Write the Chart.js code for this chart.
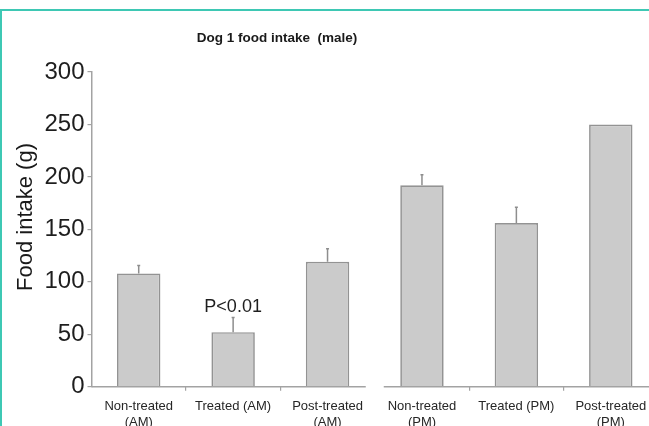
<!DOCTYPE html>
<html>
<head>
<meta charset="utf-8">
<script src="https://cdn.jsdelivr.net/npm/chart.js@4.4.1/dist/chart.umd.min.js"></script>
<style>
  html, body { margin: 0; padding: 0; overflow: hidden; background: #fff; width: 649px; height: 426px; }
  #wrap { position: relative; width: 649px; height: 426px; overflow: hidden; }
  #wrap canvas { position: absolute; left: 0; top: 0; }
  #frame { position: absolute; left: 0; top: 9px; width: 720px; height: 520px; border: 2px solid #3ec8b4; box-sizing: border-box; pointer-events: none; }
</style>
</head>
<body>
<div id="wrap">
  <canvas id="chart" width="670" height="426"></canvas>
  <div id="frame"></div>
</div>
<script>
// Food intake per feeding period (g), mean and SEM
const categories = [
  ['Non-treated', '(AM)'],
  'Treated (AM)',
  ['Post-treated', '(AM)'],
  ['Non-treated', '(PM)'],
  'Treated (PM)',
  ['Post-treated', '(PM)']
];
const intake = [108, 52, 119, 192, 156, 250];
const sem = [7.5, 14, 12.5, 10, 15, 0];
const pLabels = ['', 'P<0.01', '', '', '', ''];
const groupSize = 3;          // AM group, then PM group
const yMin = 0, yMax = 300, yStep = 50;
const chartTitle = 'Dog 1 food intake  (male)';
const yTitle = 'Food intake (g)';

const FONT = '"Liberation Sans", Arial, Helvetica, sans-serif';
const AXIS = '#a3a3a3';

const decorations = {
  id: 'decorations',
  afterDatasetsDraw(chart) {
    const { ctx, chartArea, scales: { x, y } } = chart;
    ctx.save();

    // upper error bars
    ctx.strokeStyle = '#8e8e8e';
    ctx.lineWidth = 1.5;
    intake.forEach((v, i) => {
      if (!sem[i]) return;
      const px = x.getPixelForValue(i);
      const y0 = y.getPixelForValue(v);
      const y1 = y.getPixelForValue(v + sem[i]);
      ctx.beginPath();
      ctx.moveTo(px, y0);
      ctx.lineTo(px, y1);
      ctx.moveTo(px - 1.5, y1);
      ctx.lineTo(px + 1.5, y1);
      ctx.stroke();
    });

    // significance labels above the error bars
    ctx.fillStyle = '#1e1e1e';
    ctx.font = '18px ' + FONT;
    ctx.textAlign = 'center';
    ctx.textBaseline = 'alphabetic';
    pLabels.forEach((t, i) => {
      if (!t) return;
      ctx.fillText(t, x.getPixelForValue(i), y.getPixelForValue(intake[i] + sem[i]) - 5);
    });

    // x axis line, broken between the AM and PM groups
    const gapMid = (x.getPixelForValue(groupSize - 1) + x.getPixelForValue(groupSize)) / 2;
    ctx.strokeStyle = AXIS;
    ctx.lineWidth = 1.5;
    ctx.beginPath();
    ctx.moveTo(chartArea.left, chartArea.bottom);
    ctx.lineTo(gapMid - 9, chartArea.bottom);
    ctx.moveTo(gapMid + 9, chartArea.bottom);
    ctx.lineTo(chartArea.right, chartArea.bottom);
    ctx.stroke();
    ctx.restore();
  },
  afterDraw(chart) {
    const { ctx } = chart;
    ctx.save();
    ctx.fillStyle = '#1a1a1a';
    ctx.textAlign = 'center';
    ctx.textBaseline = 'middle';
    ctx.font = 'bold 13.5px ' + FONT;
    ctx.fillText(chartTitle, 277, 38);

    ctx.translate(26, 217);
    ctx.rotate(-Math.PI / 2);
    ctx.font = '22px ' + FONT;
    ctx.fillText(yTitle, 0, 0);
    ctx.restore();
  }
};

new Chart(document.getElementById('chart'), {
  type: 'bar',
  data: {
    labels: categories,
    datasets: [{
      data: intake,
      backgroundColor: '#cbcbcb',
      borderColor: '#939393',
      borderWidth: 1.7,
      barPercentage: 0.46,
      categoryPercentage: 1
    }]
  },
  options: {
    responsive: false,
    animation: false,
    layout: { padding: { left: 0, top: 72, right: 12, bottom: 0 } },
    plugins: { legend: { display: false }, tooltip: { enabled: false }, title: { display: false } },
    scales: {
      x: {
        offset: true,
        border: { display: false },
        grid: {
          offset: true,
          drawOnChartArea: false,
          drawTicks: true,
          tickLength: 4,
          lineWidth: 1.2,
          color: c => (c.index % groupSize === 0) ? 'rgba(0,0,0,0)' : AXIS
        },
        ticks: {
          padding: 8,
          color: '#262626',
          maxRotation: 0,
          autoSkip: false,
          font: { family: FONT, size: 13, lineHeight: 1.2 }
        },
        afterFit(s) { s.height = 39.3; }
      },
      y: {
        min: yMin,
        max: yMax,
        border: { color: AXIS, width: 1.5 },
        grid: { drawOnChartArea: false, tickLength: 4, lineWidth: 1.2, color: AXIS },
        ticks: {
          stepSize: yStep,
          padding: 3,
          color: '#1e1e1e',
          font: { family: FONT, size: 24 }
        },
        afterFit(s) { s.width = 91.5; }
      }
    }
  },
  plugins: [decorations]
});
</script>
</body>
</html>
